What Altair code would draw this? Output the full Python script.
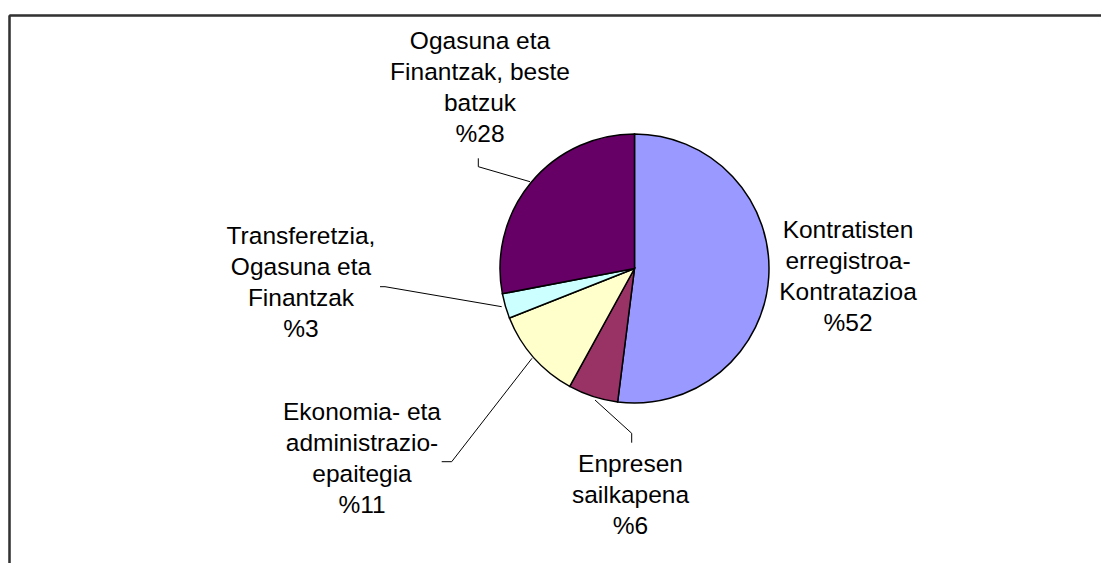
import altair as alt
import pandas as pd

# ---- data ----
categories = [
    "Kontratisten erregistroa-Kontratazioa",
    "Enpresen sailkapena",
    "Ekonomia- eta administrazio-epaitegia",
    "Transferetzia, Ogasuna eta Finantzak",
    "Ogasuna eta Finantzak, beste batzuk",
]
values = [52, 6, 11, 3, 28]
label_lines = [
    ["Kontratisten", "erregistroa-", "Kontratazioa"],
    ["Enpresen", "sailkapena"],
    ["Ekonomia- eta", "administrazio-", "epaitegia"],
    ["Transferetzia,", "Ogasuna eta", "Finantzak"],
    ["Ogasuna eta", "Finantzak, beste", "batzuk"],
]

# ---- styles / layout ----
colors = ["#9999FF", "#993366", "#FFFFCC", "#CCFFFF", "#660066"]
W, H = 1093, 555
CX, CY, R = 626.5, 260.5, 134.5
label_x = [840, 622.5, 354, 293, 472]
label_y = [222.5, 457, 404.5, 229, 34]  # centre of first line
leader_x = [[], [587, 623.7, 623.7], [433.7, 443.7, 524], [372, 377, 493.7], [470.3, 470.3, 522]]
leader_y = [[], [392, 425.3, 434.7], [453.7, 453.7, 350.3], [278.7, 278.7, 298.7], [150.3, 158.7, 173.7]]

pie_df = pd.DataFrame({"cat": categories, "val": values, "idx": list(range(len(values)))})
lab_df = pd.DataFrame({
    "txt": ["\n".join(l + ["%" + str(v)]) for l, v in zip(label_lines, values)],
    "lx": label_x,
    "ly": label_y,
})
rows = []
for i, (xs, ys) in enumerate(zip(leader_x, leader_y)):
    for j, (a, b) in enumerate(zip(xs, ys)):
        rows.append({"cat": categories[i], "seq": j, "px": a, "py": b})
lead_df = pd.DataFrame(rows)

xs = alt.Scale(domain=[0, W], range=[0, W])
ys = alt.Scale(domain=[0, H], range=[0, H])

pie = alt.Chart(pie_df).mark_arc(
    outerRadius=R, stroke="#000000", strokeWidth=1.5
).encode(
    theta=alt.Theta("val:Q", stack=True),
    order=alt.Order("idx:Q"),
    color=alt.Color("cat:N", scale=alt.Scale(domain=categories, range=colors), legend=None),
    x=alt.value(CX),
    y=alt.value(CY),
)

leaders = alt.Chart(lead_df).mark_line(color="#000000", strokeWidth=1).encode(
    x=alt.X("px:Q", scale=xs, axis=None),
    y=alt.Y("py:Q", scale=ys, axis=None),
    detail="cat:N",
    order="seq:Q",
)

labels = alt.Chart(lab_df).mark_text(
    font="Liberation Sans", fontSize=24.5, lineBreak="\n", lineHeight=31,
    align="center", baseline="middle", color="#000000",
).encode(
    x=alt.X("lx:Q", scale=xs, axis=None),
    y=alt.Y("ly:Q", scale=ys, axis=None),
    text="txt:N",
)

frame_left = alt.Chart(pie_df).mark_rule(color="#333333", strokeWidth=1.5).encode(
    x=alt.value(1.5), y=alt.value(7.5), y2=alt.value(H)
)
frame_top = alt.Chart(pie_df).mark_rule(color="#333333", strokeWidth=1.5).encode(
    x=alt.value(1.5), x2=alt.value(W), y=alt.value(7.5)
)

chart = alt.layer(frame_left, frame_top, pie, leaders, labels).properties(
    width=W, height=H, padding=0, autosize=alt.AutoSizeParams(type="none"),
    background="#FFFFFF",
).configure_view(stroke=None)

chart.save("out.html", embed_options={"renderer": "svg", "actions": False})
